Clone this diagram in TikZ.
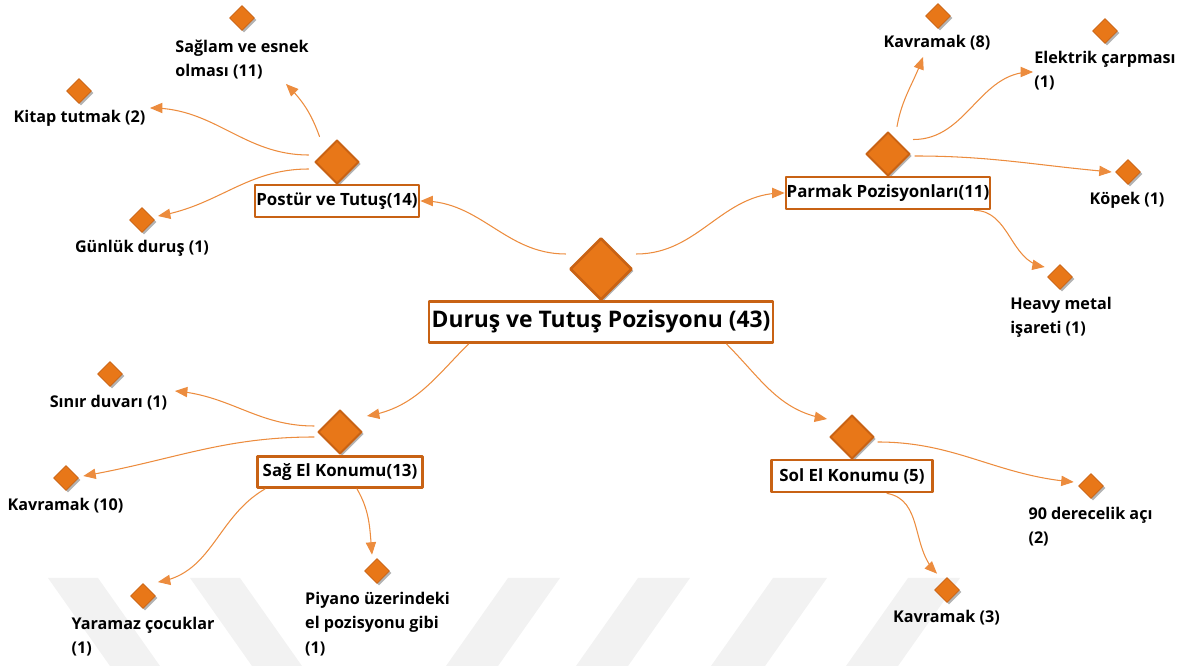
\documentclass[tikz,border=0pt]{standalone}
\usepackage{fontspec}
\setmainfont{Open Sans}
\usetikzlibrary{arrows,shapes.geometric,shadows}
\definecolor{turuncu}{RGB}{232,119,24}
\definecolor{koyuturuncu}{RGB}{200,98,20}
\definecolor{cizgi}{RGB}{236,140,62}
\definecolor{filigran}{RGB}{242,242,242}
\begin{document}
\begin{tikzpicture}[line cap=round,line join=round,>=triangle 45,x=1.0cm,y=1.0cm,
	yaprak/.style={diamond,aspect=1,inner sep=0pt,minimum size=0.5cm,fill=turuncu,draw=koyuturuncu,line width=0.4pt,drop shadow={shadow xshift=0.04cm,shadow yshift=-0.04cm,fill=gray,opacity=0.6}},
	dal/.style={yaprak,minimum size=0.88cm,line width=1.1pt},
	kok/.style={yaprak,minimum size=1.24cm,line width=1.5pt},
	kutu/.style={draw=koyuturuncu,line width=1.6pt,fill=white,inner sep=0pt,font=\fontsize{9.6}{11}\selectfont\bfseries},
	etiket/.style={align=left,inner sep=0pt,font=\fontsize{9.2}{13.8}\selectfont\bfseries},
	bag/.style={->,color=cizgi,line width=0.6pt}]
		\useasboundingbox (0,0) rectangle (23.7,-13.32);
		\fill[filigran] (0.96,-11.56) -- (1.96,-11.56) -- (3.2,-13.32) -- (2.2,-13.32) -- cycle;
		\fill[filigran] (3.8,-11.56) -- (4.8,-11.56) -- (6.04,-13.32) -- (5.04,-13.32) -- cycle;
		\fill[filigran] (10.16,-11.56) -- (11.2,-11.56) -- (9.96,-13.32) -- (8.92,-13.32) -- cycle;
		\fill[filigran] (12.76,-11.56) -- (13.8,-11.56) -- (12.56,-13.32) -- (11.52,-13.32) -- cycle;
		\fill[filigran] (15.46,-11.56) -- (16.54,-11.56) -- (15.3,-13.32) -- (14.22,-13.32) -- cycle;
		\fill[filigran] (18.16,-11.56) -- (19.2,-11.56) -- (17.96,-13.32) -- (16.92,-13.32) -- cycle;
		\node[kok] (anaD) at (12.02,-5.38) {};
		\node[kutu,minimum width=6.88cm,minimum height=0.82cm,font=\fontsize{13}{15}\selectfont\bfseries] (anaK) at (12.02,-6.44) {Duruş ve Tutuş Pozisyonu (43)};
		\node[dal] (posturD) at (6.74,-3.24) {};
		\node[kutu,minimum width=3.28cm,minimum height=0.64cm] (posturK) at (6.74,-4.02) {Postür ve Tutuş(14)};
		\node[dal] (parmakD) at (17.76,-3.08) {};
		\node[kutu,minimum width=4.08cm,minimum height=0.64cm] (parmakK) at (17.76,-3.86) {Parmak Pozisyonları(11)};
		\node[dal] (sagD) at (6.8,-8.64) {};
		\node[kutu,minimum width=3.3cm,minimum height=0.62cm] (sagK) at (6.8,-9.44) {Sağ El Konumu(13)};
		\node[dal] (solD) at (17.04,-8.74) {};
		\node[kutu,minimum width=3.22cm,minimum height=0.64cm] (solK) at (17.04,-9.52) {Sol El Konumu (5)};
		\node[yaprak] (saglamD) at (4.84,-0.36) {};
		\node[etiket] (saglamE) at (4.84,-1.19) {Sağlam ve esnek\\olması (11)};
		\node[yaprak] (kitapD) at (1.58,-1.82) {};
		\node[etiket] (kitapE) at (1.59,-2.36) {Kitap tutmak (2)};
		\node[yaprak] (gunlukD) at (2.84,-4.4) {};
		\node[etiket] (gunlukE) at (2.84,-4.96) {Günlük duruş (1)};
		\node[yaprak] (kavrama8D) at (18.76,-0.32) {};
		\node[etiket] (kavrama8E) at (18.74,-0.86) {Kavramak (8)};
		\node[yaprak] (elektrikD) at (22.1,-0.62) {};
		\node[etiket] (elektrikE) at (22.1,-1.41) {Elektrik çarpması\\(1)};
		\node[yaprak] (kopekD) at (22.56,-3.44) {};
		\node[etiket] (kopekE) at (22.54,-4.0) {Köpek (1)};
		\node[yaprak] (heavyD) at (21.2,-5.54) {};
		\node[etiket] (heavyE) at (21.22,-6.35) {Heavy metal\\işareti (1)};
		\node[yaprak] (sinirD) at (2.2,-7.48) {};
		\node[etiket] (sinirE) at (2.17,-8.06) {Sınır duvarı (1)};
		\node[yaprak] (kavrama10D) at (1.32,-9.56) {};
		\node[etiket] (kavrama10E) at (1.31,-10.12) {Kavramak (10)};
		\node[yaprak] (yaramazD) at (2.86,-11.92) {};
		\node[etiket] (yaramazE) at (2.86,-12.73) {Yaramaz çocuklar\\(1)};
		\node[yaprak] (piyanoD) at (7.54,-11.42) {};
		\node[etiket] (piyanoE) at (7.55,-12.48) {Piyano üzerindeki\\el pozisyonu gibi\\(1)};
		\node[yaprak] (dereceD) at (21.82,-9.72) {};
		\node[etiket] (dereceE) at (21.81,-10.53) {90 derecelik açı\\(2)};
		\node[yaprak] (kavrama3D) at (18.94,-11.8) {};
		\node[etiket] (kavrama3E) at (18.93,-12.36) {Kavramak (3)};
		\draw[bag] ([shift={(-0.06,0.3)}]anaD.west) to[out=180,in=0] (posturK.east);
		\draw[bag] ([shift={(0.06,0.3)}]anaD.east) to[out=0,in=180] (parmakK.west);
		\draw[bag] ([xshift=0.82cm]anaK.south west) to[out=225,in=10] ([shift={(0.08,0.32)}]sagD.east);
		\draw[bag] ([xshift=-0.96cm]anaK.south east) to[out=-45,in=170] ([shift={(-0.04,0.36)}]solD.west);
		\draw[bag] ([shift={(-0.12,0.28)}]posturD.north west) to[out=110,in=-45] ([shift={(0.88,-1.32)}]saglamD.center);
		\draw[bag] ([shift={(-0.11,0.14)}]posturD.west) to[out=180,in=0] ([shift={(1.42,-0.34)}]kitapD.center);
		\draw[bag] ([shift={(-0.11,-0.14)}]posturD.west) to[out=180,in=10] ([shift={(0.32,0.08)}]gunlukD.center);
		\draw[bag] ([shift={(0.18,0.09)}]parmakD.north) to[out=80,in=-110] ([shift={(-0.3,-0.82)}]kavrama8D.center);
		\draw[bag] ([shift={(0.28,0.06)}]parmakD.north east) to[out=0,in=180] ([shift={(-1.44,-0.82)}]elektrikD.center);
		\draw[bag] ([shift={(0.08,-0.04)}]parmakD.east) to[out=0,in=175] ([shift={(-0.07,0)}]kopekD.west);
		\draw[bag] ([xshift=-0.34cm]parmakK.south east) to[out=0,in=170] ([shift={(-0.05,0.2)}]heavyD.west);
		\draw[bag] ([shift={(-0.06,0.12)}]sagD.west) to[out=180,in=-5] ([shift={(1.3,-0.34)}]sinirD.center);
		\draw[bag] ([shift={(-0.06,-0.1)}]sagD.west) to[out=180,in=10] ([shift={(0.09,0.04)}]kavrama10D.east);
		\draw[bag] ([xshift=0.18cm]sagK.south west) to[out=210,in=10] ([shift={(0.17,0.15)}]yaramazD.north east);
		\draw[bag] ([xshift=0.34cm]sagK.south) to[out=-60,in=95] ([shift={(-0.1,0.07)}]piyanoD.north);
		\draw[bag] ([shift={(0.06,-0.1)}]solD.east) to[out=0,in=175] ([shift={(-0.09,0.08)}]dereceD.west);
		\draw[bag] ([xshift=0.7cm]solK.south) to[out=-10,in=135] ([shift={(-0.2,0.07)}]kavrama3D.north);
	\end{tikzpicture}
\end{document}
